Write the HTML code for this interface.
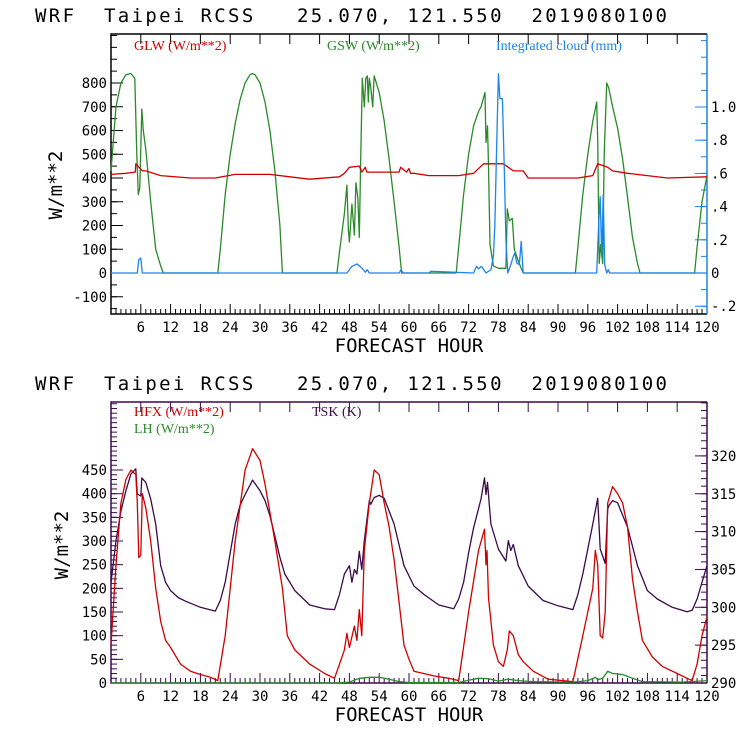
<!DOCTYPE html>
<html><head><meta charset="utf-8">
<style>
html,body{margin:0;padding:0;background:#fff;}
svg{display:block;font-family:"DejaVu Sans Mono","Liberation Mono",monospace;}
.t{font-size:19px;fill:#000;}
.tk{font-size:14px;fill:#000;}
.lg{font-family:"Liberation Serif",serif;font-size:14px;}
</style></head>
<body>
<svg id="chart" width="740" height="740" viewBox="0 0 740 740" xmlns="http://www.w3.org/2000/svg">
<text class="t" x="35" y="22" textLength="632" lengthAdjust="spacing" xml:space="preserve">WRF  Taipei RCSS   25.070, 121.550  2019080100</text>
<text class="t" x="35" y="390" textLength="632" lengthAdjust="spacing" xml:space="preserve">WRF  Taipei RCSS   25.070, 121.550  2019080100</text>
<g id="top"></g>
<g id="bot"></g>
</svg>
<script>
// ---- data (hour, value) ----
const gswH=[0,1,2,3,4,4.8,5.2,5.5,5.8,6.2,6.5,7,8,9,10,10.5,21.5,22,23,24,25,26,27,28,28.5,29,30,31,32,33,34,34.5,45.5,46,47,47.5,47.8,48,48.5,49,49.3,49.7,50,50.3,50.6,51,51.3,51.6,51.8,52,52.3,52.7,53,54,55,56,57,58,58.5,69.5,70,71,72,73,74,74.5,75.3,75.5,75.8,76,76.3,77,78,79.5,79.8,80.2,80.8,81.2,82,83,93.5,94,95,96,97,97.8,98,98.3,98.6,99,99.3,99.8,100.2,101,102,103,104,105,106,106.5,117.5,118,119,120];
const gswV=[430,700,800,835,840,820,500,330,360,690,600,520,300,100,30,0,0,100,330,500,630,730,800,835,840,835,800,720,600,430,200,0,0,90,250,370,180,130,290,160,380,320,150,500,820,700,820,830,720,820,780,700,830,760,640,480,300,110,0,0,110,330,500,620,680,700,760,550,620,450,120,30,20,20,270,220,230,100,50,0,0,110,330,500,640,720,560,40,120,40,500,800,780,700,610,480,320,150,40,0,0,110,300,410];
const glwH=[0,3,4.9,5,6.3,7,10,16,21,25,32,36,40,46,47,48,50,50.5,51.2,51.5,52,58,58.3,59.5,60,60.3,61,64,70,73,75,79,80,81,83,84,94,97,98,100,101,104,108,112,120];
const glwV=[415,420,425,460,430,430,410,400,400,415,415,405,395,405,420,445,450,425,445,425,425,425,445,425,440,420,420,410,410,420,460,460,445,430,430,400,400,410,460,445,430,420,410,400,405];
const cldH=[0,5.3,5.6,6,6.3,47.5,48.5,49.5,50.5,51.2,51.6,52,58,58.4,58.8,64,64.4,73,73.6,74,74.6,75.5,76.5,77,77.3,77.6,78,78.3,78.8,79.2,79.5,79.9,80.5,81,81.3,81.7,82.2,82.6,83,97.8,98.2,98.5,98.8,99.1,99.4,99.8,100.1,100.4,120];
const cldV=[0,0,0.08,0.09,0,0,0.04,0.055,0.03,0.005,0.02,0,0,0.02,0,0,0.01,0,0.04,0.025,0.04,0,0.02,0.1,0.3,0.7,1.2,1.05,1.05,0.6,0.2,0,0.05,0.1,0.12,0.06,0.05,0.19,0,0,0.3,0.46,0.1,0.47,0.05,0,0.02,0,0];
const hfxH=[0,1,2,3,4,5,5.3,5.6,6,6.3,7,8,9,10,11,12,14,16,18,20,21.5,23,25,27,28.5,30,31,33,34.5,35.5,37,40,43,45,46,47,47.5,48,49,49.5,50,50.5,51,52,53,54,55,56,57,58,59,60,61,65,68,70,72,74,75.2,75.5,75.7,76,77,78,79,79.8,80.2,81,82,83,85,88,93,95,97,97.5,98,98.5,99,99.5,100,101,102,103,104,105,106,107,109,111,114,116,117,118,119,120];
const hfxV=[80,250,380,430,450,440,380,265,270,400,370,300,200,130,90,75,40,25,18,12,5,100,300,450,495,470,420,300,200,100,70,40,20,10,40,70,105,75,120,90,155,100,280,380,450,440,380,330,260,170,80,50,25,15,10,5,150,280,325,250,280,180,80,45,35,70,110,100,60,45,25,8,3,100,200,280,250,100,95,150,380,415,400,380,330,220,150,90,55,35,20,10,5,40,100,140];
const tskH=[0,1,2,3,4,5,5.3,5.5,6,6.2,7,8,9,10,11,12,13.5,15,18,21,22,23,24,25,26,27,28.5,30,31,32,33,34,35,37,40,43,45,46,47,48,48.5,49,49.5,50,50.5,51,52,52.3,53,54,55,57,59,61,63,66,69,70,71,72,73,74.5,75.2,75.5,75.8,76.5,78,79.5,80,80.5,81,82,84,87,90,93,94,95,96,97,98,98.5,99.5,100,100.3,101,102,104,106,108,110,113,116,117,118,119,120];
const tskV=[303.3,308.8,312.7,315.4,317.6,318.3,314.9,314.9,314.7,317.1,316.5,314.3,311,305.5,303.3,302.2,301.3,300.8,300,299.5,300.9,303.3,307.2,311,313.5,314.9,316.8,315.4,314.1,312.1,309.4,306.6,304.4,302.2,300.3,299.8,299.7,301.7,304.4,305.5,303.3,305,304.4,307.4,305,308.8,314.1,313.6,314.5,314.8,314.4,311,305.5,302.8,301.7,300.3,299.8,301.1,303.3,307.2,310.5,314.3,317.1,314.9,316.5,311,307.7,306.1,308.8,307.5,308.3,305.5,302.8,300.9,300.2,299.7,301.7,304.4,307.7,311,314.4,307.7,305.8,313,313.5,314.1,313.8,310.6,305.5,302.2,301.1,300,299.4,299.6,301.1,303.3,305.5];
const lhH=[0,45,48,50,52,54,56,58,60,70,72,74,76,78,80,82,85,93,96,97.5,98,99,100,101,103,105,107,115,120];
const lhV=[0,0,2,10,12,12,8,3,1,1,6,10,9,4,8,5,3,2,5,12,7,10,25,20,18,10,3,2,5];
const xTicks=[6,12,18,24,30,36,42,48,54,60,66,72,78,84,90,96,102,108,114,120];
const topLeftTicks=[-100,0,100,200,300,400,500,600,700,800];
const topRightTicks=[-0.2,0,0.2,0.4,0.6,0.8,1.0];
const topRightLabels=["-.2","0",".2",".4",".6",".8","1.0"];
const botLeftTicks=[0,50,100,150,200,250,300,350,400,450];
const botRightTicks=[290,295,300,305,310,315,320];

const NS="http://www.w3.org/2000/svg";
const X0=111,X1=707;
const x=h=>X0+h*(X1-X0)/120;
const yTopL=v=>273-v*0.2375;
const yTopR=v=>273-v*166;
const yBotL=v=>683-v*0.4733;
const yBotR=v=>683-(v-290)*7.57;
function el(p,tag,a,txt){const e=document.createElementNS(NS,tag);for(const k in a)e.setAttribute(k,a[k]);if(txt!==undefined)e.textContent=txt;p.appendChild(e);return e;}
function series(p,H,V,yf,col,name){
  let d=H.map((h,i)=>(i?'L':'M')+x(h).toFixed(1)+' '+yf(V[i]).toFixed(1)).join(' ');
  const e=el(p,'path',{d:d,fill:'none',stroke:col,'stroke-width':1.3,'stroke-linejoin':'round'});
  
  
}
function panel(g,top,bot,frameCol,rightCol,yL,lt,lminor,lminorRange,yR,rt,rlabels,rminor,rminorRange){
  for(let h=1;h<120;h++){const big=h%6==0;const L=big?10:5;
    el(g,'line',{x1:x(h),x2:x(h),y1:bot,y2:bot-L,stroke:frameCol});
    el(g,'line',{x1:x(h),x2:x(h),y1:top,y2:top+(big?10:0),stroke:frameCol});}
  xTicks.forEach(h=>{const t=el(g,'text',{class:'tk',x:x(h),y:bot+18,'text-anchor':'middle'},String(h));
    });
  const xt=el(g,'text',{class:'t',x:409,y:bot+38,'text-anchor':'middle'},'FORECAST HOUR');
  
  for(let v=lminorRange[0];v<=lminorRange[1];v+=lminor){const yy=yL(v);if(yy<top||yy>bot)continue;
    el(g,'line',{x1:X0,x2:X0+6,y1:yy,y2:yy,stroke:frameCol});}
  lt.forEach(v=>{const yy=yL(v);el(g,'line',{x1:X0,x2:X0+12,y1:yy,y2:yy,stroke:frameCol});
    const t=el(g,'text',{class:'tk',x:X0-4,y:yy+5,'text-anchor':'end'},String(v));
    });
  for(let v=rminorRange[0];v<=rminorRange[1]+1e-9;v+=rminor){const yy=yR(v);if(yy<top||yy>bot)continue;
    el(g,'line',{x1:X1,x2:X1-6,y1:yy,y2:yy,stroke:rightCol});}
  rt.forEach((v,i)=>{const yy=yR(v);el(g,'line',{x1:X1,x2:X1-12,y1:yy,y2:yy,stroke:rightCol});
    const t=el(g,'text',{class:'tk',x:X1+4,y:yy+5,'text-anchor':'start','font-size':rlabels?14:12},rlabels?rlabels[i]:String(v));
    });
  el(g,'path',{d:`M${X1} ${top} L${X0} ${top} L${X0} ${bot} L${X1} ${bot}`,fill:'none',stroke:frameCol,'stroke-width':1.5});
  el(g,'line',{x1:X1,x2:X1,y1:top,y2:bot,stroke:rightCol,'stroke-width':1.5});
}
const gt=document.getElementById('top');
panel(gt,34,314,'#000','#1a84f0',yTopL,topLeftTicks,50,[-150,1000],yTopR,topRightTicks,topRightLabels,0.1,[-0.2,1.4]);
series(gt,gswH,gswV,yTopL,'#2a8a2a','gsw-line');
series(gt,glwH,glwV,yTopL,'#d00000','glw-line');
series(gt,cldH,cldV,yTopR,'#1a84f0','cloud-line');
let t;
t=el(gt,'text',{class:'lg',x:134,y:50,fill:'#d00000'},'GLW (W/m**2)');
t=el(gt,'text',{class:'lg',x:327,y:50,fill:'#2a8a2a'},'GSW (W/m**2)');
t=el(gt,'text',{class:'lg',x:496,y:50,fill:'#1a84f0'},'Integrated cloud (mm)');
t=el(gt,'text',{class:'t',x:0,y:0,transform:'translate(62,185) rotate(-90)','text-anchor':'middle'},'W/m**2');

const gb=document.getElementById('bot');
panel(gb,402,683,'#3a0a4a','#3a0a4a',yBotL,botLeftTicks,10,[0,590],yBotR,botRightTicks,null,1,[290,327]);
series(gb,lhH,lhV,yBotL,'#2a8a2a','lh-line');
series(gb,tskH,tskV,yBotR,'#3a0a4a','tsk-line');
series(gb,hfxH,hfxV,yBotL,'#d00000','hfx-line');
t=el(gb,'text',{class:'lg',x:134,y:416,fill:'#d00000'},'HFX (W/m**2)');
t=el(gb,'text',{class:'lg',x:134,y:433,fill:'#2a8a2a'},'LH  (W/m**2)');
t=el(gb,'text',{class:'lg',x:312,y:416,fill:'#3a0a4a'},'TSK (K)');
t=el(gb,'text',{class:'t',x:0,y:0,transform:'translate(68,545) rotate(-90)','text-anchor':'middle'},'W/m**2');
</script>
</body></html>
